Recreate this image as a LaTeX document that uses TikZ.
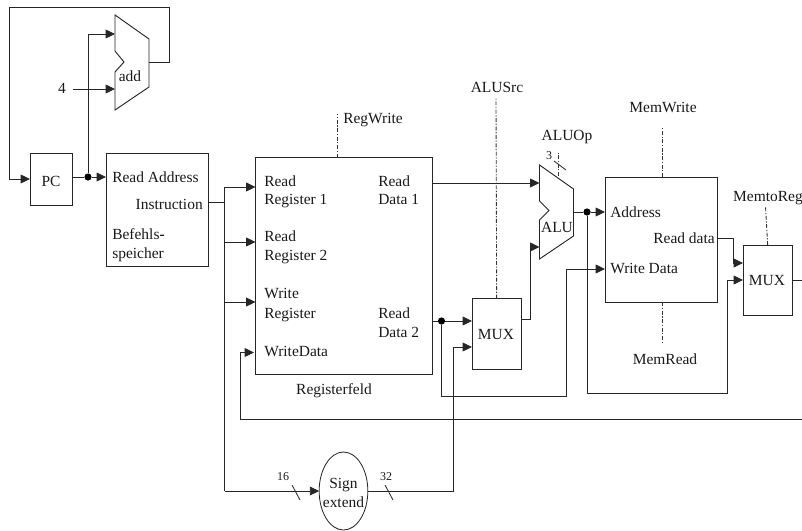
\documentclass[tikz,border=0pt]{standalone}
\usepackage{fontspec}
\setmainfont{Liberation Serif}
\usetikzlibrary{arrows.meta,shapes.geometric}
\tikzset{
  x=0.75pt,y=-0.75pt,
  wire/.style={line width=0.62pt,black!85},
  arr/.style={wire,-{Triangle[length=7pt,width=6.6pt]}},
  block/.style={draw=black!85,line width=0.7pt,rectangle,inner sep=0,outer sep=0,anchor=north west},
  ctl/.style={line width=0.65pt,black!80,dash pattern=on 3pt off 1.2pt on 0.9pt off 1.2pt},
  dot/.style={circle,fill=black,inner sep=0,minimum size=5.4pt},
  lab/.style={inner sep=0,font=\fontsize{11.6}{14.2}\selectfont,text=black!90},
  llab/.style={lab,anchor=base west},
  rlab/.style={lab,anchor=base east},
  clab/.style={lab,anchor=base},
  tiny/.style={inner sep=0,font=\fontsize{9}{11}\selectfont,text=black!90,anchor=base},
}
\begin{document}
\begin{tikzpicture}
\useasboundingbox (0,0) rectangle (802,531);
% blocks
\node[block,minimum width=31.5pt,minimum height=39pt] (pc) at (30,153.5) {};
\node[lab] at (51,181) {PC};
\node[block,minimum width=76.5pt,minimum height=85pt] (imem) at (106,153.5) {};
\node[block,minimum width=133pt,minimum height=162.5pt] (reg) at (255.5,157.5) {};
\node[block,minimum width=84.5pt,minimum height=94pt] (dmem) at (605,177) {};
\node[block,minimum width=37pt,minimum height=53pt] (muxa) at (472,298.5) {};
\node[block,minimum width=37pt,minimum height=53pt] (muxb) at (743,245) {};
\node[draw=black!85,line width=0.62pt,ellipse,inner sep=0,outer sep=0,minimum width=36.5pt,minimum height=58.5pt] (sign) at (343.5,491) {};
\node[clab] at (343.5,488) {Sign};
\node[clab] at (343.5,507) {extend};
% adder and ALU
\draw[wire,line width=0.7pt] (115,15) -- (149,39) -- (149,87) -- (115,110) -- (115,72) -- (124,62) -- (115,51) -- cycle;
\coordinate (addA) at (115,34);
\coordinate (addB) at (115,89);
\coordinate (addO) at (149,62.5);
\draw[wire,line width=0.7pt] (539.5,165) -- (573.5,189) -- (573.5,236) -- (539.5,259) -- (539.5,220) -- (549,210.5) -- (539.5,201) -- cycle;
\coordinate (aluA) at (539.5,183);
\coordinate (aluB) at (539.5,247);
\coordinate (aluO) at (573.5,212);
% junctions and free ends
\node[dot] (j1) at (88,177) {};
\node[dot] (j2) at (441.5,321) {};
\node[dot] (j3) at (587,212) {};
\coordinate (four) at (73,89);
\coordinate (ibus) at (224.5,202);
\coordinate (wb) at (802,419);
\coordinate (out) at (802,280);
% wires
\draw[arr] (addO) -- (169,62.5) -- (169,7) -- (9.5,7) -- (9.5,179) -- (pc.west |- 0,179);
\draw[wire] (pc.east |- j1) -- (j1);
\draw[arr] (j1) -- (imem.west |- j1);
\draw[arr] (j1) |- (addA);
\draw[arr] (four) -- (addB);
\draw[wire] (imem.east |- ibus) -- (ibus);
\draw[wire] (224.5,187) -- (224.5,491);
\draw[arr] (224.5,187) -- (reg.west |- 0,187);
\draw[arr] (224.5,242) -- (reg.west |- 0,242);
\draw[arr] (224.5,302) -- (reg.west |- 0,302);
\draw[arr] (224.5,491) -- (sign.west);
\draw[arr] (sign.east) -- (453,491) -- (453,347) -- (muxa.west |- 0,347);
\draw[arr] (wb) -- (240,419) -- (240,352.5) -- (254,352.5);
\draw[arr] (reg.east |- aluA) -- (aluA);
\draw[wire] (reg.east |- j2) -- (j2);
\draw[arr] (j2) -- (muxa.west |- j2);
\draw[arr] (j2) -- (441.5,396) -- (566,396) -- (566,269) -- (dmem.west |- 0,269);
\draw[arr] (muxa.east |- 0,319) -- (530,319) -- (530,247) -- (aluB);
\draw[wire] (aluO) -- (j3);
\draw[arr] (j3) -- (dmem.west |- j3);
\draw[arr] (j3) -- (587,393) -- (727,393) -- (727,280) -- (muxb.west |- 0,280);
\draw[arr] (dmem.east |- 0,238) -- (733,238) -- (733,263) -- (muxb.west |- 0,263);
\draw[wire] (muxb.east |- out) -- (out);
% control lines
\draw[ctl] (reg.north -| 337,0) -- (337,114);
\draw[ctl] (muxa.north) -- (496,98);
\draw[ctl] (dmem.north -| 662,0) -- (662,128);
\draw[ctl] (dmem.south -| 662,0) -- (662,343);
\draw[ctl] (muxb.north) -- (765.5,206);
\draw[ctl] (558,176) -- (558,153);
\draw[wire] (554,161) -- (566,170);
\draw[wire] (292,485) -- (300,500);
\draw[wire] (385,485) -- (393,500);
% labels
\node[clab] at (62,94) {4};
\node[clab] at (130,82) {add};
\node[llab] at (112,182) {Read Address};
\node[rlab] at (203,209) {Instruction};
\node[llab] at (112,239) {Befehls\textbf{-}};
\node[llab] at (112,258) {speicher};
\node[llab] at (264,186) {Read};
\node[llab] at (264,204) {Register 1};
\node[llab] at (264,241) {Read};
\node[llab] at (264,260) {Register 2};
\node[llab] at (264,298) {Write};
\node[llab] at (264,318) {Register};
\node[llab] at (264,356) {WriteData};
\node[llab] at (378,186) {Read};
\node[llab] at (378,204) {Data 1};
\node[llab] at (378,318) {Read};
\node[llab] at (378,337) {Data 2};
\node[clab] at (334,394) {Registerfeld};
\node[llab] at (343,123) {RegWrite};
\node[clab] at (497,93) {ALUSrc};
\node[clab] at (567,141) {ALUOp};
\node[clab] at (663,113) {MemWrite};
\node[clab] at (665,364) {MemRead};
\node[clab] at (768,201) {MemtoReg};
\node[clab] at (496,339) {MUX};
\node[clab] at (767,285) {MUX};
\node[clab] at (557,232) {ALU};
\node[llab] at (610,217) {Address};
\node[rlab] at (715,243) {Read data};
\node[llab] at (610,273) {Write Data};
\node[tiny] at (549,160) {3};
\node[tiny] at (283,480) {16};
\node[tiny] at (386,480) {32};
\end{tikzpicture}
\end{document}
